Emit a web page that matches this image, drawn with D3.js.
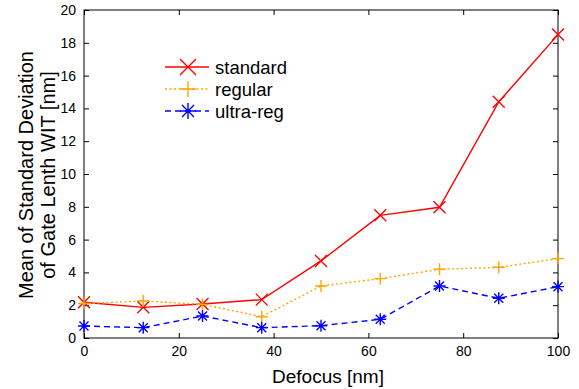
<!DOCTYPE html>
<html><head><meta charset="utf-8">
<script src="https://cdn.jsdelivr.net/npm/d3@7"></script>
<style>body{margin:0;background:#fff}svg{display:block}text{font-family:"Liberation Sans",Arial,sans-serif;fill:#000}</style>
</head><body><svg id="c" width="579" height="389"></svg>
<script>
const defocus = [0, 12.5, 25, 37.5, 50, 62.5, 75, 87.5, 100];
const standard = [2.18, 1.87, 2.07, 2.34, 4.7, 7.48, 7.97, 14.4, 18.5];
const regular = [2.1, 2.26, 2.05, 1.3, 3.17, 3.62, 4.19, 4.31, 4.84];
const ultraReg = [0.73, 0.63, 1.34, 0.63, 0.75, 1.14, 3.17, 2.42, 3.13];
const seriesNames = ["standard", "regular", "ultra-reg"];
const xTicks = [0, 20, 40, 60, 80, 100];
const yTicks = [0, 2, 4, 6, 8, 10, 12, 14, 16, 18, 20];

const svg = d3.select("#c");
const L = 84, R = 558, T = 10, B = 338;
const x = d3.scaleLinear().domain([0, 100]).range([L, R]);
const y = d3.scaleLinear().domain([0, 20]).range([B, T]);

const styles = [
  {data: standard, color: "#ff0000", dash: null, marker: "x"},
  {data: regular, color: "#ffa500", dash: "2,2.5", marker: "+"},
  {data: ultraReg, color: "#0000ff", dash: "6,4", marker: "*"}
];

function marker(g, type, cx, cy, color, s) {
  const p = d3.path();
  if (type === "x") {
    p.moveTo(cx - s, cy - s); p.lineTo(cx + s, cy + s);
    p.moveTo(cx - s, cy + s); p.lineTo(cx + s, cy - s);
  } else if (type === "+") {
    p.moveTo(cx - s, cy); p.lineTo(cx + s, cy);
    p.moveTo(cx, cy - s); p.lineTo(cx, cy + s);
  } else {
    p.moveTo(cx - s, cy); p.lineTo(cx + s, cy);
    p.moveTo(cx, cy - s); p.lineTo(cx, cy + s);
    const d = s * 0.75;
    p.moveTo(cx - d, cy - d); p.lineTo(cx + d, cy + d);
    p.moveTo(cx - d, cy + d); p.lineTo(cx + d, cy - d);
  }
  g.append("path").attr("d", p.toString()).attr("stroke", color).attr("stroke-width", 1.4).attr("fill", "none");
}

// axes
const axB = d3.axisBottom(x).tickValues(xTicks).tickSizeInner(-5).tickSizeOuter(0).tickPadding(8);
const axT = d3.axisTop(x).tickValues(xTicks).tickSizeInner(-5).tickSizeOuter(0).tickFormat("");
const axL = d3.axisLeft(y).tickValues(yTicks).tickSizeInner(-5).tickSizeOuter(0).tickPadding(8);
const axR = d3.axisRight(y).tickValues(yTicks).tickSizeInner(-5).tickSizeOuter(0).tickFormat("");
[[axB, `translate(0,${B})`], [axT, `translate(0,${T})`], [axL, `translate(${L},0)`], [axR, `translate(${R},0)`]].forEach(([a, t]) => {
  const g = svg.append("g").attr("transform", t).call(a);
  g.selectAll("text").style("font-size", "14px").style("font-family", '"Liberation Sans",Arial,sans-serif');
  g.select(".domain").remove();
  g.selectAll("line").attr("stroke", "#000").attr("stroke-width", 1);
});
svg.append("rect").attr("x", L).attr("y", T).attr("width", R - L).attr("height", B - T)
  .attr("fill", "none").attr("stroke", "#000").attr("stroke-width", 1);

// lines
const line = d3.line().x((d, i) => x(defocus[i])).y(d => y(d));
styles.forEach(s => {
  svg.append("path").datum(s.data).attr("d", line).attr("fill", "none")
    .attr("stroke", s.color).attr("stroke-width", 1.4).attr("stroke-dasharray", s.dash);
  const g = svg.append("g");
  s.data.forEach((v, i) => marker(g, s.marker, x(defocus[i]), y(v), s.color, 6));
});

// legend
styles.forEach((s, i) => {
  const ly = 67 + i * 22;
  svg.append("line").attr("x1", 165).attr("x2", 209).attr("y1", ly).attr("y2", ly)
    .attr("stroke", s.color).attr("stroke-width", 1.4).attr("stroke-dasharray", s.dash);
  marker(svg.append("g"), s.marker, 188, ly, s.color, 8);
  svg.append("text").attr("x", 215).attr("y", ly + 7).style("font-size", "18.5px").text(seriesNames[i]);
});

// labels
svg.append("text").attr("x", (L + R) / 2 + 7).attr("y", 383).attr("text-anchor", "middle").style("font-size", "19px").text("Defocus [nm]");
const yl = svg.append("text").attr("transform", "translate(0,175) rotate(-90)").attr("text-anchor", "middle").style("font-size", "20px");
yl.append("tspan").attr("x", 0).attr("y", 33).text("Mean of Standard Deviation");
yl.append("tspan").attr("x", 0).attr("y", 55).text("of Gate Lenth WIT [nm]");
</script></body></html>
